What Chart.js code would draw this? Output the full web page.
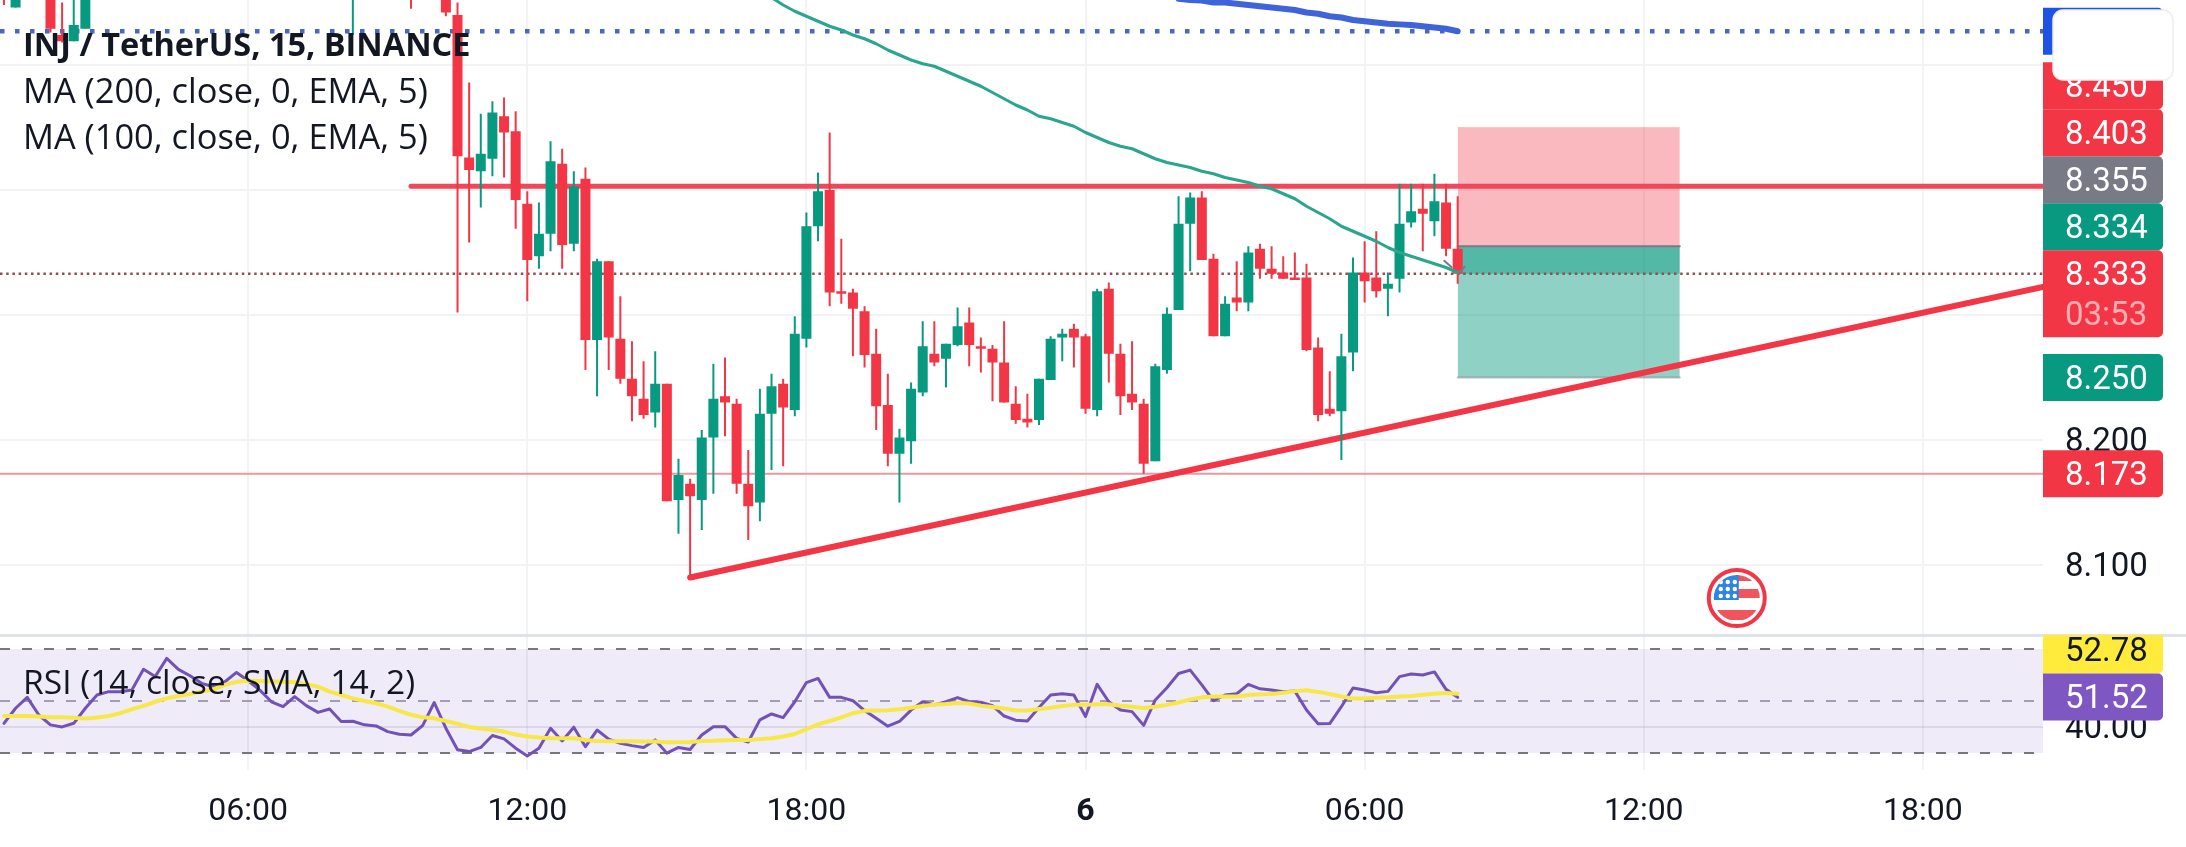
<!DOCTYPE html>
<html>
<head>
<meta charset="utf-8">
<title>INJ / TetherUS</title>
<script src="https://cdn.jsdelivr.net/npm/chart.js@4/dist/chart.umd.min.js"></script>
<style>
    html, body { margin: 0; padding: 0; background: #fff; }
    canvas { display: block; }
</style>
</head>
<body>
<canvas id="chart" width="2186" height="847"></canvas>
<script>
// slots count 15 minute bars from 12:00 on the 5th, bars above the visible range are left out
const candleSlots = [-45,-44,-41,-40,-39,-38,-15,-10,-7,-6,-5,-4,-3,-2,-1,
    0,1,2,3,4,5,6,7,8,9,10,11,12,13,14,15,16,17,18,19,20,21,22,23,24,25,26,27,28,29,
    30,31,32,33,34,35,36,37,38,39,40,41,42,43,44,45,46,47,48,49,50,51,52,53,54,55,56,57,58,59,
    60,61,62,63,64,65,66,67,68,69,70,71,72,73,74,75,76,77,78,79,80];

const candleOpen = [8.580,8.546,8.580,8.524,8.519,8.529,8.570,8.600,8.580,8.540,8.426,8.415,8.425,8.459,8.447,
    8.389,8.347,8.365,8.421,8.357,8.409,8.280,8.343,8.281,8.249,8.233,8.222,8.245,8.152,8.165,
    8.152,8.202,8.235,8.229,8.165,8.150,8.221,8.245,8.224,8.281,8.371,8.400,8.319,8.318,8.303,
    8.269,8.228,8.189,8.199,8.238,8.269,8.265,8.276,8.294,8.275,8.273,8.262,8.229,8.217,8.216,
    8.248,8.282,8.289,8.283,8.224,8.321,8.269,8.237,8.229,8.183,8.256,8.304,8.373,8.394,8.345,
    8.283,8.314,8.310,8.353,8.337,8.334,8.330,8.330,8.274,8.225,8.223,8.270,8.334,8.330,8.321,
    8.329,8.374,8.385,8.375,8.390,8.353];

const candleHigh = [8.590,8.590,8.590,8.550,8.560,8.590,8.630,8.620,8.600,8.550,8.486,8.461,8.471,8.474,8.463,
    8.399,8.390,8.439,8.433,8.415,8.418,8.345,8.343,8.315,8.279,8.263,8.271,8.245,8.185,8.169,
    8.208,8.261,8.266,8.233,8.192,8.241,8.253,8.249,8.299,8.382,8.414,8.446,8.361,8.321,8.307,
    8.289,8.253,8.209,8.246,8.295,8.295,8.277,8.306,8.306,8.282,8.276,8.295,8.243,8.237,8.249,
    8.283,8.289,8.293,8.285,8.321,8.326,8.277,8.279,8.233,8.261,8.306,8.395,8.398,8.399,8.349,
    8.315,8.343,8.355,8.357,8.355,8.347,8.350,8.341,8.282,8.255,8.285,8.346,8.359,8.367,8.334,
    8.405,8.405,8.405,8.413,8.405,8.395];

const candleLow = [8.548,8.546,8.526,8.518,8.519,8.529,8.524,8.545,8.539,8.302,8.358,8.386,8.411,8.410,8.369,
    8.311,8.337,8.351,8.337,8.351,8.256,8.235,8.256,8.245,8.215,8.217,8.210,8.151,8.125,8.090,
    8.128,8.157,8.203,8.157,8.120,8.135,8.176,8.179,8.219,8.274,8.359,8.307,8.309,8.267,8.258,
    8.208,8.179,8.150,8.181,8.235,8.259,8.242,8.275,8.259,8.254,8.231,8.230,8.213,8.210,8.212,
    8.248,8.263,8.258,8.221,8.219,8.246,8.220,8.224,8.173,8.183,8.253,8.304,8.335,8.344,8.283,
    8.283,8.303,8.303,8.329,8.329,8.329,8.328,8.271,8.215,8.219,8.184,8.255,8.310,8.314,8.299,
    8.318,8.370,8.351,8.363,8.347,8.325];

const candleClose = [8.560,8.580,8.529,8.519,8.532,8.580,8.620,8.570,8.542,8.427,8.416,8.429,8.462,8.446,8.392,
    8.344,8.365,8.423,8.356,8.403,8.280,8.343,8.282,8.249,8.235,8.220,8.245,8.151,8.172,8.155,
    8.202,8.233,8.230,8.165,8.147,8.221,8.243,8.226,8.285,8.371,8.399,8.318,8.317,8.305,8.268,
    8.227,8.189,8.202,8.241,8.275,8.262,8.277,8.291,8.276,8.273,8.262,8.230,8.216,8.214,8.249,
    8.281,8.285,8.282,8.225,8.319,8.269,8.235,8.230,8.181,8.259,8.301,8.373,8.394,8.344,8.283,
    8.309,8.310,8.350,8.337,8.333,8.329,8.328,8.272,8.220,8.221,8.267,8.334,8.327,8.319,8.325,
    8.373,8.383,8.381,8.391,8.353,8.333];

// EMA 100 from slot 20, EMA 200 from slot 56
const ma100Start = 20;
const ma100Values = [8.560,8.554,8.548,8.543,8.539,8.535,8.531,8.528,8.524,8.521,
    8.517,8.512,8.508,8.504,8.501,8.499,8.495,8.491,8.487,8.483,
    8.478,8.473,8.468,8.464,8.459,8.457,8.454,8.451,8.446,8.442,
    8.438,8.435,8.433,8.429,8.425,8.422,8.420,8.418,8.415,8.413,
    8.410,8.408,8.406,8.403,8.401,8.397,8.393,8.387,8.382,8.377,
    8.371,8.367,8.363,8.359,8.354,8.350,8.347,8.344,8.341,8.338,8.334];

const ma200Start = 56;
const ma200Values = [8.553,8.552,8.5515,8.550,8.550,8.549,8.548,8.547,8.546,8.545,8.544,8.542,8.541,
    8.539,8.538,8.536,8.535,8.534,8.533,8.5325,8.532,8.531,8.530,8.529,8.527];

// RSI and its SMA from slot -45 to slot 80
const rsiStart = -45;
const rsiValues = [41.4,47.2,51.4,44.6,40.8,40.0,41.4,47.2,52.3,53.6,53.6,54.2,62.2,59.4,66.4,
    62.2,59.7,56.8,55.5,57.4,61.0,57.8,54.2,49.7,47.8,51.7,48.2,45.6,46.9,42.1,
    42.2,40.8,40.4,38.2,37.2,36.9,40.5,49.4,39.5,31.2,30.5,32.1,36.7,35.4,31.8,
    28.8,31.8,39.5,34.6,39.9,32.4,38.8,35.3,33.7,32.8,32.1,35.0,29.9,32.1,31.3,
    36.9,40.1,40.1,35.6,34.2,42.7,45.0,43.6,49.7,57.1,58.7,51.4,51.4,50.1,46.3,
    43.3,40.3,42.1,46.5,49.7,48.5,49.7,51.3,49.7,49.5,48.2,44.2,42.6,42.3,47.5,
    52.3,52.8,52.3,44.0,56.4,49.7,46.5,45.9,40.6,50.4,55.1,60.6,61.9,56.2,50.1,
    52.3,52.8,56.4,54.7,54.2,53.6,53.8,46.5,41.2,41.3,47.8,55.0,54.2,53.2,53.7,
    59.4,60.4,60.0,61.2,54.5,51.4];

const rsiSmaValues = [44.2,44.2,44.2,44.0,43.7,43.7,43.5,43.2,43.6,44.2,45.3,46.8,48.1,49.7,51.0,
    51.9,52.7,53.6,54.5,56.2,57.4,57.8,57.7,57.6,57.4,57.2,56.5,55.5,53.6,52.3,
    51.0,50.0,49.1,47.8,46.2,44.7,43.7,43.3,42.3,41.2,40.0,39.4,38.8,38.2,37.1,
    36.3,35.9,35.6,35.6,35.6,35.0,34.6,34.5,34.5,34.5,34.4,34.4,34.1,34.1,34.2,
    34.6,34.7,34.9,35.0,35.0,35.3,35.6,36.3,37.3,39.1,41.0,42.3,43.7,45.3,46.2,
    46.3,46.4,46.8,47.4,48.1,48.6,48.8,49.2,49.0,48.2,47.7,47.1,46.3,46.3,46.9,
    47.4,48.1,48.5,48.5,48.7,48.7,48.2,47.8,47.3,47.8,48.5,49.4,50.6,51.4,51.7,
    51.7,51.7,52.3,52.6,52.7,53.2,53.8,54.1,53.5,52.7,51.7,51.0,51.0,51.2,51.4,
    51.7,51.9,52.4,52.8,53.1,52.8];

// drawings on the price pane
const resistancePrice = 8.403;
const resistanceStart = -10;
const supportPrice = 8.173;
const lastPrice = 8.333;
const ma200Price = 8.527;
const trendSlots = [14, 130.33];
const trendPrices = [8.09, 8.3224];
const positionSlots = [80, 99.1];
const stopPrice = 8.45;
const entryPrice = 8.355;
const targetPrice = 8.25;
const markerSlots = [[78.85, 79.48], [80.6, 80.2]];
const markerPrices = [[8.3434, 8.3382], [8.3386, 8.3346]];
const eventSlot = 104;

// axes
const slotMin = -45.34;
const slotMax = 130.33;
const priceMin = 8.044;
const priceMax = 8.552;
const priceTicks = [8.1, 8.2, 8.3, 8.4, 8.5];
const rsiMin = 23.4;
const rsiMax = 75.43;
const rsiTicks = [40];
const rsiLevels = [70, 50, 30];
const xTickSlots = [-24, 0, 24, 48, 72, 96, 120];
const xTickLabels = ['06:00', '12:00', '18:00', '6', '06:00', '12:00', '18:00'];

// tags on the price scale, top to bottom
const priceTagValues = [8.527, 8.45, 8.403, 8.355, 8.334, 8.333, 8.25, 8.173];
const priceTagLabels = ['', '8.450', '8.403', '8.355', '8.334', '8.333', '8.250', '8.173'];
const priceTagColors = ['#1e53e5', '#f23645', '#f23645', '#787b86', '#089981', '#f23645', '#089981', '#f23645'];
const countdownLabel = '03:53';
const rsiTagValues = [52.78, 51.52];
const rsiTagLabels = ['52.78', '51.52'];
const rsiTagColors = ['#ffeb3b', '#7e57c2'];
const rsiTagTextColors = ['#131722', '#ffffff'];

const legendLines = ['INJ / TetherUS, 15, BINANCE', 'MA (200, close, 0, EMA, 5)', 'MA (100, close, 0, EMA, 5)'];
const rsiLegend = 'RSI (14, close, SMA, 14, 2)';

const UP = '#089981';
const DOWN = '#f23645';
const candleColors = candleOpen.map((o, i) => candleClose[i] >= o ? UP : DOWN);

function seriesPoints(start, values) {
    return values.map((v, i) => ({ x: start + i, y: v }));
}

function flatLine(x0, x1, price) {
    return [{ x: x0, y: price }, { x: x1, y: price }];
}

function lineSet(data, yAxisID, color, width, order, extra) {
    return Object.assign({
        type: 'line', data, yAxisID, order,
        borderColor: color, borderWidth: width, backgroundColor: 'transparent',
        pointRadius: 0, tension: 0, fill: false, borderCapStyle: 'round', borderJoinStyle: 'round'
    }, extra || {});
}

function barSet(data, thickness, order) {
    return {
        type: 'bar', data, yAxisID: 'price', order, grouped: false, inflateAmount: 0,
        backgroundColor: candleColors, borderWidth: 0, barThickness: thickness
    };
}

const datasets = [
    // position box
    lineSet(flatLine(positionSlots[0], positionSlots[1], stopPrice), 'price', 'rgba(242,54,69,0.15)', 1, 90,
        { fill: { value: entryPrice }, backgroundColor: 'rgba(242,54,69,0.35)' }),
    lineSet(flatLine(positionSlots[0], positionSlots[1], targetPrice), 'price', 'rgba(120,123,134,0.5)', 2, 90,
        { fill: { value: entryPrice }, backgroundColor: 'rgba(8,153,129,0.45)' }),
    lineSet(flatLine(positionSlots[0], positionSlots[1], lastPrice), 'price', 'transparent', 0, 89,
        { fill: { value: entryPrice }, backgroundColor: 'rgba(8,153,129,0.45)' }),
    lineSet(flatLine(positionSlots[0], positionSlots[1], entryPrice), 'price', '#787b86', 2, 88),

    // horizontal levels and the trend line
    lineSet(flatLine(slotMin, slotMax, supportPrice), 'price', '#e8989f', 2, 80, { borderCapStyle: 'butt' }),
    lineSet(flatLine(slotMin, slotMax, lastPrice), 'price', '#8f4f55', 2.5, 80,
        { borderDash: [2.5, 3.7], borderCapStyle: 'butt' }),
    lineSet(flatLine(slotMin, slotMax, ma200Price), 'price', '#4a66c8', 4.5, 80,
        { borderDash: [4.5, 10.5], borderCapStyle: 'butt' }),
    lineSet(flatLine(resistanceStart, slotMax, resistancePrice), 'price', '#f0475a', 5, 70),
    lineSet(trendSlots.map((s, i) => ({ x: s, y: trendPrices[i] })), 'price', '#f23645', 6, 70),

    // candles
    barSet(candleSlots.map((s, i) => ({ x: s, y: [candleLow[i], candleHigh[i]] })), 2, 40),
    barSet(candleSlots.map((s, i) => ({ x: s, y: [Math.min(candleOpen[i], candleClose[i]), Math.max(candleOpen[i], candleClose[i])] })), 10, 39),

    // moving averages
    lineSet(seriesPoints(ma200Start, ma200Values), 'price', '#3f63d8', 6, 20),
    lineSet(seriesPoints(ma100Start, ma100Values), 'price', '#2aa58e', 3, 20),
    lineSet(markerSlots[0].map((s, i) => ({ x: s, y: markerPrices[0][i] })), 'price', '#787b86', 2, 15),
    lineSet(markerSlots[1].map((s, i) => ({ x: s, y: markerPrices[1][i] })), 'price', '#787b86', 2, 15),

    // RSI pane
    lineSet(flatLine(slotMin, slotMax, rsiLevels[0]), 'rsi', '#787878', 2, 60,
        { borderDash: [10, 12], borderCapStyle: 'butt', fill: { value: rsiLevels[2] }, backgroundColor: 'rgba(126,87,194,0.12)' }),
    lineSet(flatLine(slotMin, slotMax, rsiLevels[1]), 'rsi', '#aaa6b0', 2, 60, { borderDash: [10, 12], borderCapStyle: 'butt' }),
    lineSet(flatLine(slotMin, slotMax, rsiLevels[2]), 'rsi', '#787878', 2, 60, { borderDash: [10, 12], borderCapStyle: 'butt' }),
    lineSet(seriesPoints(rsiStart, rsiValues), 'rsi', '#7352b8', 3, 30),
    lineSet(seriesPoints(rsiStart, rsiSmaValues), 'rsi', '#f8e748', 4, 25)
];

function drawTag(ctx, left, y, top, height, color, label, textColor) {
    ctx.fillStyle = color;
    ctx.beginPath();
    ctx.roundRect(left, top, 120, height, [0, 5, 5, 0]);
    ctx.fill();
    if (label) {
        ctx.fillStyle = textColor;
        ctx.fillText(label, left + 22, y + 3);
    }
}

function drawPriceTags(chart, ctx) {
    const scale = chart.scales.price;
    const left = chart.chartArea.right;
    const tagHeight = 47;
    const lastIndex = priceTagValues.indexOf(lastPrice);
    const centers = priceTagValues.map(v => scale.getPixelForValue(v));
    // tags above the current price get pushed up so they do not overlap
    let ceiling = centers[lastIndex] - tagHeight / 2;
    for (let i = lastIndex - 1; i >= 0; i--) {
        centers[i] = Math.min(centers[i], ceiling - tagHeight / 2);
        ceiling = centers[i] - tagHeight / 2;
    }
    priceTagValues.forEach((v, i) => {
        const isLast = i === lastIndex;
        const height = isLast ? 87 : tagHeight;
        drawTag(ctx, left, centers[i], centers[i] - tagHeight / 2, height, priceTagColors[i], priceTagLabels[i], '#ffffff');
        if (isLast) {
            ctx.fillStyle = 'rgba(255,255,255,0.6)';
            ctx.fillText(countdownLabel, left + 22, centers[i] + 43);
        }
    });
}

function drawRsiTags(chart, ctx) {
    const scale = chart.scales.rsi;
    const left = chart.chartArea.right;
    const tagHeight = 47;
    const last = rsiTagValues.length - 1;
    const centers = rsiTagValues.map(v => scale.getPixelForValue(v));
    for (let i = last - 1; i >= 0; i--) {
        centers[i] = Math.min(centers[i], centers[i + 1] - tagHeight);
    }
    ctx.save();
    ctx.beginPath();
    ctx.rect(left, scale.top, 143, scale.bottom - scale.top);
    ctx.clip();
    rsiTagValues.forEach((v, i) => {
        drawTag(ctx, left, centers[i], centers[i] - tagHeight / 2, tagHeight, rsiTagColors[i], rsiTagLabels[i], rsiTagTextColors[i]);
    });
    ctx.restore();
}

function drawEventFlag(chart, ctx) {
    const cx = chart.scales.x.getPixelForValue(eventSlot);
    const cy = chart.scales.price.bottom - 37;
    ctx.save();
    ctx.fillStyle = '#ffffff';
    ctx.strokeStyle = '#f23645';
    ctx.lineWidth = 4;
    ctx.beginPath();
    ctx.arc(cx, cy, 28, 0, Math.PI * 2);
    ctx.fill();
    ctx.stroke();
    ctx.beginPath();
    ctx.arc(cx, cy, 23, 0, Math.PI * 2);
    ctx.clip();
    ctx.fillStyle = '#f0555d';
    ctx.fillRect(cx, cy - 24, 26, 7);
    ctx.fillRect(cx, cy - 9, 26, 9);
    ctx.fillRect(cx - 24, cy + 12, 48, 10);
    ctx.fillStyle = '#2f86e0';
    ctx.fillRect(cx - 24, cy - 24, 26, 26);
    ctx.fillStyle = '#ffffff';
    for (let row = 0; row < 3; row++) {
        for (let col = 0; col < 3; col++) {
            ctx.beginPath();
            ctx.arc(cx - 16 + col * 7, cy - 16 + row * 7, 2.2, 0, Math.PI * 2);
            ctx.fill();
        }
    }
    ctx.restore();
}

const overlayPlugin = {
    id: 'overlay',
    afterDatasetsDraw(chart) {
        const ctx = chart.ctx;
        ctx.save();

        // pane divider
        ctx.fillStyle = '#e0e3eb';
        ctx.fillRect(0, chart.scales.price.bottom - 1, chart.width, 3);

        drawEventFlag(chart, ctx);

        ctx.textBaseline = 'middle';
        ctx.textAlign = 'left';
        ctx.font = '33px Roboto';
        drawPriceTags(chart, ctx);
        drawRsiTags(chart, ctx);

        // legend block
        ctx.fillStyle = '#131722';
        ctx.font = 'bold 32.5px "Open Sans"';
        ctx.fillText(legendLines[0], 23, 47);
        ctx.font = '34.4px "Open Sans"';
        ctx.fillText(legendLines[1], 23, 93);
        ctx.fillText(legendLines[2], 23, 139);
        ctx.font = '33.6px "Open Sans"';
        ctx.fillText(rsiLegend, 23, 684);

        // empty rounded box that sits over the top of the scale
        ctx.fillStyle = '#ffffff';
        ctx.strokeStyle = '#eceef2';
        ctx.lineWidth = 1.5;
        ctx.beginPath();
        ctx.roundRect(2053, 10, 120, 70, 10);
        ctx.fill();
        ctx.stroke();

        ctx.restore();
    }
};

// the layout would otherwise reserve room for half a tick label at the pane edges
function fitPriceScale(scale) {
    scale.width = 143;
    scale.paddingTop = 0;
    scale.paddingBottom = 0;
}

new Chart(document.getElementById('chart'), {
    type: 'line',
    data: { datasets },
    plugins: [overlayPlugin],
    options: {
        responsive: false,
        animation: false,
        events: [],
        layout: { padding: 0 },
        plugins: { legend: { display: false }, tooltip: { enabled: false }, title: { display: false } },
        scales: {
            x: {
                type: 'linear', min: slotMin, max: slotMax, offset: false,
                border: { display: false },
                grid: { color: 'rgba(42,46,57,0.06)', lineWidth: 2, drawTicks: false, offset: false },
                afterBuildTicks(scale) { scale.ticks = xTickSlots.map(v => ({ value: v })); },
                afterFit(scale) { scale.height = 77; scale.paddingLeft = 0; scale.paddingRight = 0; },
                ticks: {
                    autoSkip: false, maxRotation: 0, padding: 23, color: '#131722',
                    font: ctx => ({ family: 'Roboto', size: 32, weight: ctx.tick && ctx.tick.value === 48 ? 'bold' : 'normal' }),
                    callback: v => xTickLabels[xTickSlots.indexOf(v)]
                }
            },
            price: {
                type: 'linear', position: 'right', stack: 'panes', stackWeight: 635, weight: 1,
                min: priceMin, max: priceMax,
                border: { display: false },
                grid: { color: '#f1f3f6', lineWidth: 2, drawTicks: false },
                afterBuildTicks(scale) { scale.ticks = priceTicks.map(v => ({ value: v })); },
                afterFit: fitPriceScale,
                ticks: { padding: 22, labelOffset: 3, color: '#131722', font: { family: 'Roboto', size: 33 }, callback: v => v.toFixed(3) }
            },
            rsi: {
                type: 'linear', position: 'right', stack: 'panes', stackWeight: 135, weight: 2,
                min: rsiMin, max: rsiMax,
                border: { display: false },
                grid: { color: 'rgba(90,80,120,0.13)', lineWidth: 2, drawTicks: false },
                afterBuildTicks(scale) { scale.ticks = rsiTicks.map(v => ({ value: v })); },
                afterFit: fitPriceScale,
                ticks: { padding: 22, labelOffset: 3, color: '#131722', font: { family: 'Roboto', size: 33 }, callback: v => v.toFixed(2) }
            }
        }
    }
});
</script>
</body>
</html>
